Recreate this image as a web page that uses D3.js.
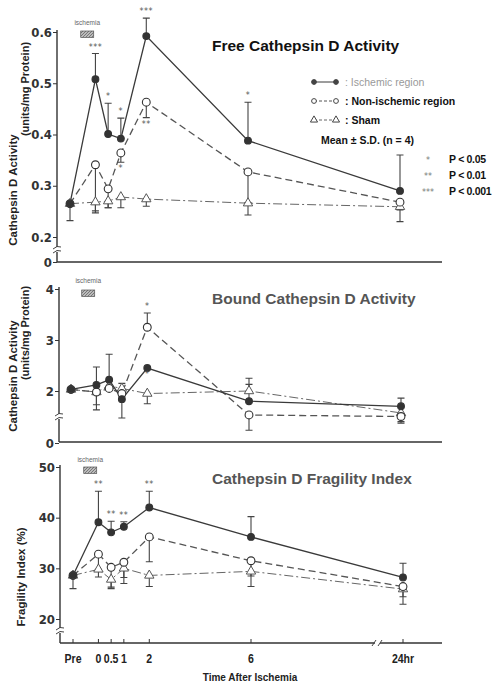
<!DOCTYPE html>
<html>
<head>
<meta charset="utf-8">
<script src="https://cdn.jsdelivr.net/npm/d3@7"></script>
<style>
  body { margin: 0; background: #fff; }
  svg { display: block; }
  .tick text { font-family: "Liberation Sans Narrow", "DejaVu Sans Condensed", sans-serif; font-weight: bold; }
</style>
</head>
<body>
<svg id="chart" width="494" height="686"></svg>
<script>
// time points (hours after ischemia, Pre = -1)
const times = [-1, 0, 0.5, 1, 2, 6, 24];
const timeLabels = ['Pre', '0', '0.5', '1', '2', '6', '24hr'];
const seriesNames = ['Ischemic region', 'Non-ischemic region', 'Sham'];

// SD: positive = bar drawn above the mean, negative = drawn below
const freeIschemic   = [0.265, 0.508, 0.401, 0.392, 0.592, 0.388, 0.290];
const freeIschemicSD = [0, 0.050, 0.060, 0.040, 0.035, 0.075, 0.070];
const freeNonIsch    = [0.265, 0.341, 0.294, 0.364, 0.463, 0.327, 0.268];
const freeNonIschSD  = [0, -0.090, -0.037, -0.018, -0.030, -0.060, -0.015];
const freeSham       = [0.265, 0.268, 0.270, 0.278, 0.274, 0.266, 0.259];
const freeShamSD     = [-0.033, -0.021, -0.013, -0.021, -0.014, -0.023, -0.029];
const freeStarsIsch  = ['', '***', '*', '*', '***', '*', ''];
const freeStarsNon   = ['', '', '', '*', '**', '', ''];

const boundIschemic   = [2.03, 2.12, 2.22, 1.84, 2.45, 1.80, 1.70];
const boundIschemicSD = [0, 0.35, 0.50, -0.37, 0, 0.33, 0.16];
const boundNonIsch    = [2.03, 1.98, 2.05, 1.95, 3.25, 1.53, 1.50];
const boundNonIschSD  = [0, -0.35, 0.15, 0.20, 0.28, -0.30, -0.13];
const boundSham       = [2.03, 1.98, 2.10, 2.05, 1.95, 2.00, 1.57];
const boundShamSD     = [0, -0.25, 0.10, -0.15, -0.20, 0.25, -0.17];
const boundStarsIsch  = ['', '', '', '', '*', '', ''];
const boundStarsNon   = ['', '', '', '', '*', '', ''];

const fragIschemic   = [28.6, 39.1, 37.1, 38.2, 42.0, 36.2, 28.2];
const fragIschemicSD = [0, 6.1, 2.2, 1.0, 3.2, 4.0, 2.8];
const fragNonIsch    = [28.6, 32.8, 30.2, 31.2, 36.2, 31.5, 26.4];
const fragNonIschSD  = [0, -3.0, -3.9, -3.0, -4.9, -3.0, -2.0];
const fragSham       = [28.6, 29.8, 27.8, 30.0, 28.6, 29.4, 25.9];
const fragShamSD     = [-2.6, -1.5, -1.8, -3.0, -2.2, -3.0, -3.0];
const fragStarsIsch  = ['', '**', '**', '**', '**', '', ''];
const fragStarsNon   = ['', '', '', '', '', '', ''];

const pLabels = [['*', 'P < 0.05'], ['**', 'P < 0.01'], ['***', 'P < 0.001']];

const svg = d3.select('#chart');
svg.append('rect').attr('width', 494).attr('height', 686).attr('fill', '#fff');

// hatch for the ischemia box
const defs = svg.append('defs');
const pat = defs.append('pattern').attr('id', 'hatch').attr('patternUnits', 'userSpaceOnUse')
    .attr('width', 3).attr('height', 3);
pat.append('rect').attr('width', 3).attr('height', 3).attr('fill', '#bbb');
pat.append('path').attr('d', 'M0,3 L3,0').attr('stroke', '#666').attr('stroke-width', 0.8);

// piecewise x scale: linear to 6 hr, then compressed up to 24 hr
const x = d3.scaleLinear().domain([-1, 6, 24]).range([73, 251, 403]);

const styles = [
    { stroke: '#3a3a3a', dash: null, width: 1.3, marker: 'filled' },
    { stroke: '#555', dash: '7,4', width: 1.3, marker: 'open' },
    { stroke: '#666', dash: '9,3,2,3', width: 1, marker: 'triangle' }
];

const panels = [
    {
        title: 'Free Cathepsin D Activity', titleY: 51, titleColor: '#111', titleWeight: 'bold',
        y: d3.scaleLinear().domain([0, 0.2, 0.6]).range([262, 237, 32]),
        ticks: [0, 0.2, 0.3, 0.4, 0.5, 0.6], fmt: d => d === 0 ? '0' : d3.format('.1f')(d),
        axisX: 57, top: 30, base: 262, breakY: 250, dx: -3,
        label: ['Cathepsin D Activity', '(units/mg Protein)'], labelY: [190, 89],
        isch: { textY: 25, boxY: 31 },
        data: [[freeIschemic, freeIschemicSD, freeStarsIsch], [freeNonIsch, freeNonIschSD, freeStarsNon], [freeSham, freeShamSD, null]]
    },
    {
        title: 'Bound Cathepsin D Activity', titleY: 304, titleColor: '#555', titleWeight: 'bold',
        y: d3.scaleLinear().domain([0, 1, 4]).range([443, 442, 289]),
        ticks: [0, 2, 3, 4], fmt: d => String(d),
        axisX: 59, top: 287, base: 442, breakY: 417, dx: -2,
        label: ['Cathepsin D Activity', '(units/mg Protein)'], labelY: [376, 333],
        isch: { textY: 283, boxY: 290 },
        data: [[boundIschemic, boundIschemicSD, boundStarsIsch], [boundNonIsch, boundNonIschSD, boundStarsNon], [boundSham, boundShamSD, null]]
    },
    {
        title: 'Cathepsin D Fragility Index', titleY: 484, titleColor: '#555', titleWeight: 'bold',
        y: d3.scaleLinear().domain([0, 20, 50]).range([643, 619, 467]),
        ticks: [20, 30, 40, 50], fmt: d => String(d),
        axisX: 60, top: 465, base: 643, breakY: 631, dx: 0,
        label: ['Fragility Index  (%)'], labelY: [577],
        isch: { textY: 462, boxY: 467 },
        data: [[fragIschemic, fragIschemicSD, fragStarsIsch], [fragNonIsch, fragNonIschSD, fragStarsNon], [fragSham, fragShamSD, null]]
    }
];

panels.forEach((p, pi) => {
    const g = svg.append('g');
    const y = p.y;
    const px = t => x(t) + p.dx;

    // y axis
    const yAxis = d3.axisLeft(y).tickValues(p.ticks).tickFormat(p.fmt).tickSize(4).tickSizeOuter(0);
    const ya = g.append('g').attr('transform', `translate(${p.axisX},0)`).call(yAxis);
    ya.select('.domain').attr('d', `M0,${p.top}V${p.base}`).attr('stroke', '#333').attr('stroke-width', 1.4);
    ya.selectAll('.tick line').attr('stroke', '#333');
    ya.selectAll('.tick text').attr('font-size', 13).attr('fill', '#333').attr('x', -5);

    // axis break on y axis
    g.append('rect').attr('x', p.axisX - 3).attr('y', p.breakY - 3).attr('width', 6).attr('height', 5).attr('fill', '#fff');
    g.append('path')
        .attr('d', `M${p.axisX - 4},${p.breakY - 1} q4,-4 8,-2 M${p.axisX - 4},${p.breakY + 3} q4,-4 8,-2`)
        .attr('fill', 'none').attr('stroke', '#444').attr('stroke-width', 1);

    // x baseline
    g.append('line').attr('x1', p.axisX).attr('x2', 442).attr('y1', p.base).attr('y2', p.base)
        .attr('stroke', '#333').attr('stroke-width', 1.4);

    // y axis titles
    p.label.forEach((t, i) => {
        const lx = p.label.length === 2 ? (i === 0 ? 14 : 26) : 22;
        g.append('text').attr('transform', `translate(${lx},${p.labelY[i]}) rotate(-90)`)
            .attr('text-anchor', 'middle').attr('dominant-baseline', 'middle')
            .attr('font-family', 'Liberation Sans, Arial, sans-serif').attr('font-weight', 'bold')
            .attr('font-size', i === 0 ? 11.5 : 11).attr('fill', '#222').text(t);
    });

    // title
    g.append('text').attr('x', 212).attr('y', p.titleY)
        .attr('font-family', 'Liberation Sans, Arial, sans-serif').attr('font-weight', p.titleWeight)
        .attr('font-size', 15.5).attr('fill', p.titleColor).text(p.title);

    // ischemia marker
    const ix = px(-0.5) - 2;
    g.append('text').attr('x', ix + 6.5).attr('y', p.isch.textY).attr('text-anchor', 'middle')
        .attr('font-family', 'Liberation Sans, sans-serif').attr('font-size', 6.5).attr('fill', '#666').text('ischemia');
    g.append('rect').attr('x', ix).attr('y', p.isch.boxY).attr('width', 13).attr('height', 6.5)
        .attr('fill', 'url(#hatch)').attr('stroke', '#555').attr('stroke-width', 0.7);

    // lines
    const lineGen = d3.line().x((d, i) => px(times[i])).y(d => y(d));
    [2, 1, 0].forEach(si => {
        const st = styles[si];
        g.append('path').datum(p.data[si][0]).attr('d', lineGen)
            .attr('fill', 'none').attr('stroke', st.stroke).attr('stroke-width', st.width)
            .attr('stroke-dasharray', st.dash);
    });

    // error bars
    [2, 1, 0].forEach(si => {
        const [vals, sds] = p.data[si];
        const bars = vals.map((v, i) => ({ t: times[i], v, sd: sds[i] })).filter(d => d.sd !== 0);
        g.selectAll(null).data(bars).enter().append('path')
            .attr('d', d => {
                const cx = px(d.t), y0 = y(d.v), y1 = y(d.v + d.sd);
                return `M${cx},${y0}V${y1}M${cx - 3.5},${y1}H${cx + 3.5}`;
            })
            .attr('stroke', '#444').attr('stroke-width', 1.1).attr('fill', 'none');
    });

    // markers
    [2, 1, 0].forEach(si => {
        const st = styles[si];
        const vals = p.data[si][0];
        const pts = vals.map((v, i) => ({ t: times[i], v }));
        if (st.marker === 'triangle') {
            g.selectAll(null).data(pts).enter().append('path')
                .attr('d', d3.symbol().type(d3.symbolTriangle).size(38))
                .attr('transform', d => `translate(${px(d.t)},${y(d.v)})`)
                .attr('fill', '#fff').attr('stroke', '#555').attr('stroke-width', 1);
        } else {
            g.selectAll(null).data(pts).enter().append('circle')
                .attr('cx', d => px(d.t)).attr('cy', d => y(d.v))
                .attr('r', st.marker === 'filled' ? 3.4 : 3.9)
                .attr('fill', st.marker === 'filled' ? '#333' : '#fff')
                .attr('stroke', '#333').attr('stroke-width', 1.1);
        }
    });

    // significance stars
    [0, 1].forEach(si => {
        const [vals, sds, stars] = p.data[si];
        if (!stars) return;
        stars.forEach((s, i) => {
            if (!s) return;
            const above = si === 0 ? !(pi === 1) : (pi === 1);
            let yy;
            if (above) yy = y(vals[i] + Math.max(sds[i], 0)) - 4;
            else yy = y(vals[i] + Math.min(sds[i], 0)) + 9;
            g.append('text').attr('x', px(times[i])).attr('y', yy).attr('text-anchor', 'middle')
                .attr('font-family', 'DejaVu Sans, sans-serif').attr('font-size', 8).attr('fill', '#555')
                .attr('letter-spacing', 0.5).text(s);
        });
    });
});

// x axis ticks and labels on bottom panel
const bottom = panels[2];
svg.selectAll(null).data(times).enter().append('line')
    .attr('x1', d => x(d)).attr('x2', d => x(d)).attr('y1', bottom.base).attr('y2', bottom.base - 4)
    .attr('stroke', '#333').attr('stroke-width', 1);
svg.selectAll(null).data(times).enter().append('text')
    .attr('transform', d => `translate(${x(d)},663) scale(0.78,1)`).attr('text-anchor', 'middle')
    .attr('font-family', 'Liberation Sans Narrow, sans-serif').attr('font-weight', 'bold')
    .attr('font-size', 13.5).attr('fill', '#222')
    .text((d, i) => timeLabels[i]);
// x axis break
svg.append('rect').attr('x', 375).attr('y', bottom.base - 3).attr('width', 5).attr('height', 6).attr('fill', '#fff');
svg.append('path').attr('d', `M372,${bottom.base + 3}L376,${bottom.base - 3}M378,${bottom.base + 3}L382,${bottom.base - 3}`)
    .attr('stroke', '#444').attr('stroke-width', 1);
svg.append('text').attr('x', 250).attr('y', 681).attr('text-anchor', 'middle')
    .attr('font-family', 'Liberation Sans, sans-serif').attr('font-weight', 'bold')
    .attr('font-size', 10).attr('fill', '#222').text('Time After Ischemia');

// legend
const leg = svg.append('g');
const legY = [82, 101, 120];
seriesNames.forEach((name, i) => {
    const st = styles[i];
    leg.append('line').attr('x1', 314).attr('x2', 336).attr('y1', legY[i]).attr('y2', legY[i])
        .attr('stroke', st.stroke).attr('stroke-width', 1).attr('stroke-dasharray', st.dash ? '3,2' : null);
    [314, 336].forEach(lx => {
        if (st.marker === 'triangle') {
            leg.append('path').attr('d', d3.symbol().type(d3.symbolTriangle).size(22))
                .attr('transform', `translate(${lx},${legY[i]})`).attr('fill', '#fff').attr('stroke', '#444');
        } else {
            leg.append('circle').attr('cx', lx).attr('cy', legY[i]).attr('r', 2.4)
                .attr('fill', st.marker === 'filled' ? '#444' : '#fff').attr('stroke', '#444');
        }
    });
    leg.append('text').attr('x', 345).attr('y', legY[i] + 4)
        .attr('font-family', 'Liberation Sans, sans-serif').attr('font-weight', i === 0 ? 'normal' : 'bold')
        .attr('font-size', 10.5).attr('fill', i === 0 ? '#999' : '#111')
        .text(': ' + name);
});
leg.append('text').attr('x', 321).attr('y', 144)
    .attr('font-family', 'Liberation Sans, sans-serif').attr('font-weight', 'bold')
    .attr('font-size', 10.5).attr('fill', '#111').text('Mean \u00b1 S.D. (n = 4)');
pLabels.forEach((pl, i) => {
    const yy = 163 + i * 16;
    leg.append('text').attr('x', 428).attr('y', yy).attr('text-anchor', 'middle')
        .attr('font-family', 'DejaVu Sans, sans-serif').attr('font-size', 8).attr('fill', '#777').text(pl[0]);
    leg.append('text').attr('x', 449).attr('y', yy)
        .attr('font-family', 'Liberation Sans Narrow, sans-serif').attr('font-weight', 'bold')
        .attr('font-size', 10.5).attr('letter-spacing', -0.3).attr('fill', '#111').text(pl[1]);
});
</script>
</body>
</html>
